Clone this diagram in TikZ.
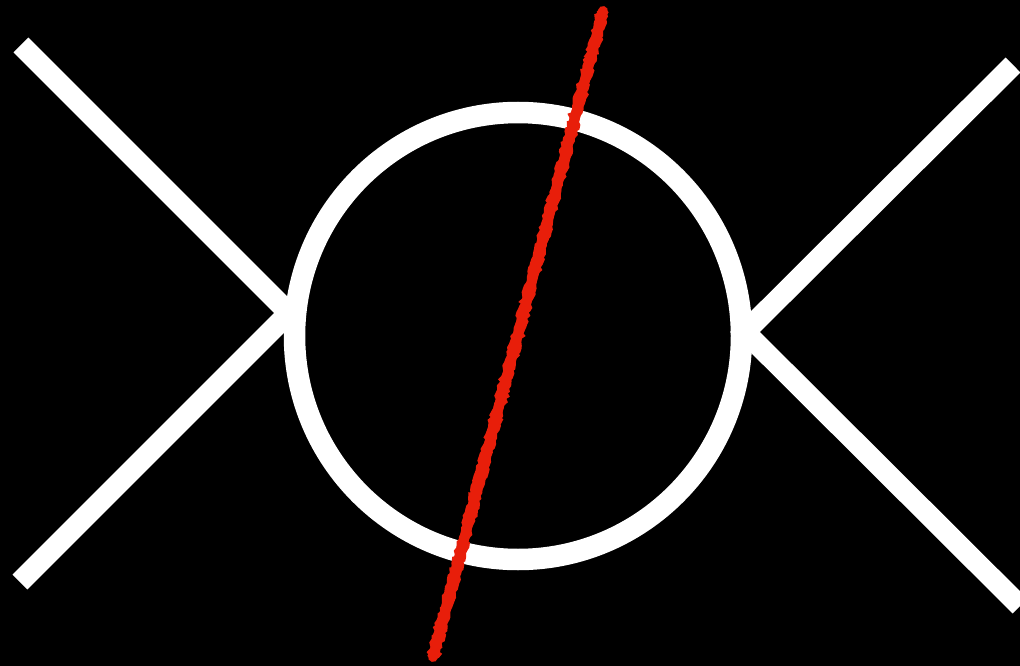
\documentclass[tikz,border=0pt]{standalone}
\usetikzlibrary{decorations.pathmorphing,calc}
\definecolor{slash}{RGB}{232,30,10}
\tikzset{
  wline/.style={draw=white,line width=21pt,line cap=butt},
  redslash/.style={draw=slash,line width=10pt,line cap=round},
  redrough/.style={draw=slash,line width=4pt,decorate,decoration={random steps,segment length=3pt,amplitude=1.5pt}}
}
\begin{document}
\begin{tikzpicture}[x=1pt,y=-1pt]
\fill[black] (0,0) rectangle (1020,666);
\useasboundingbox (0,0) rectangle (1020,666);
\coordinate (LT) at (21,45);
\coordinate (LV) at (289,313);
\coordinate (LB) at (20,582);
\coordinate (RT) at (1013,65);
\coordinate (RV) at (745,332);
\coordinate (RB) at (1020,606);
\coordinate (C) at (518,336);
\coordinate (S1) at (603,11);
\coordinate (S2) at (433,657);
\draw[wline] (LT) -- (LV) -- (LB);
\draw[wline] (RT) -- (RV) -- (RB);
\draw[draw=white,line width=21.5pt] (C) circle[radius=223.5];
\draw[redslash] (S1) -- (S2);
\draw[redrough] ($(S1)+(-4,0)$) -- ($(S2)+(-4,0)$);
\draw[redrough] ($(S1)+(4,0)$) -- ($(S2)+(4,0)$);
\end{tikzpicture}
\end{document}
